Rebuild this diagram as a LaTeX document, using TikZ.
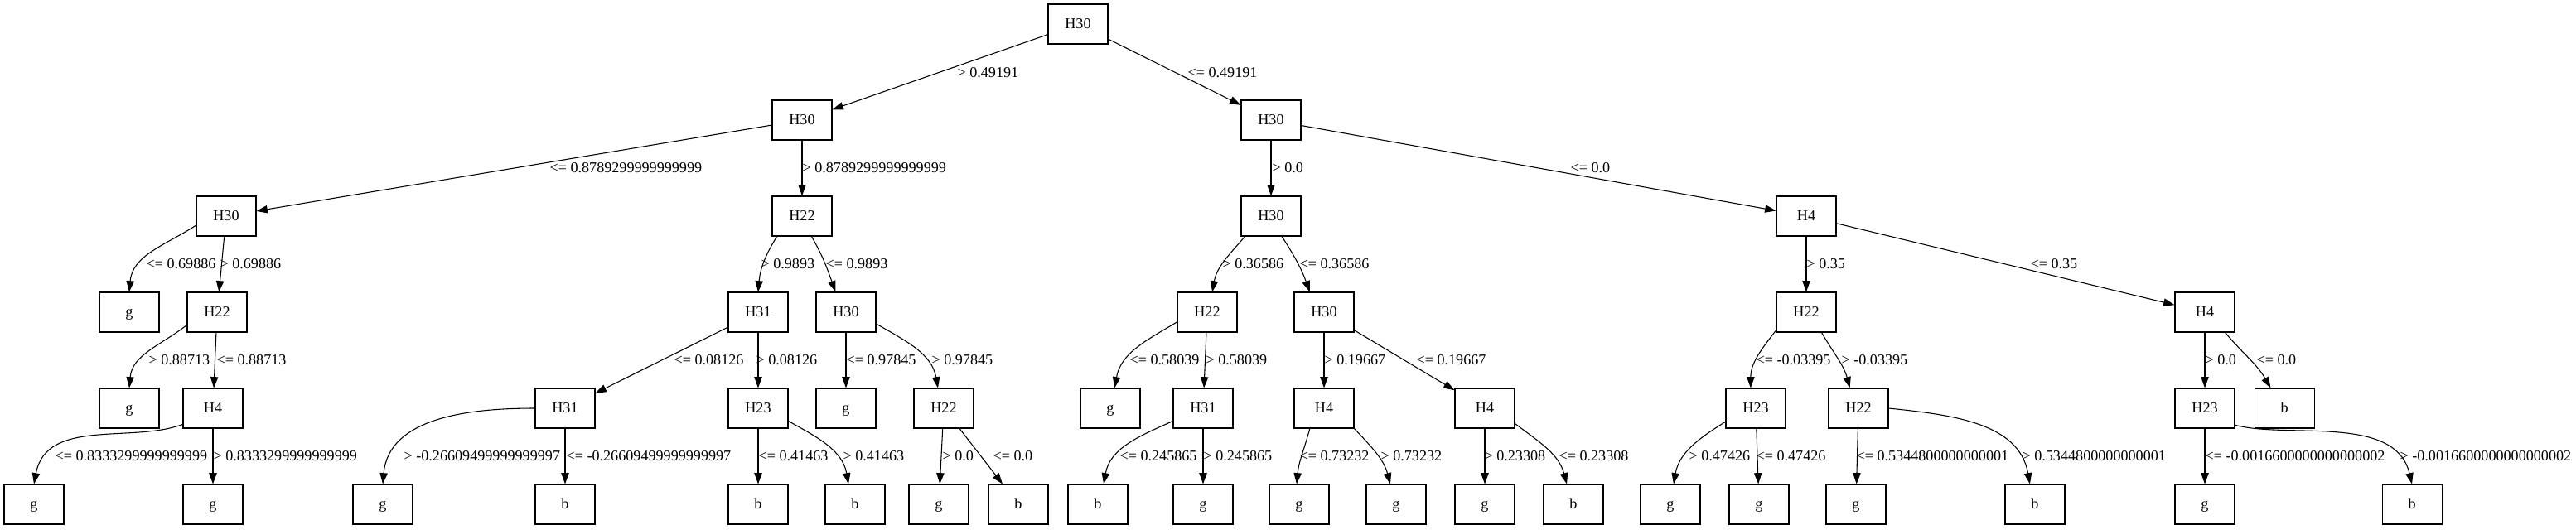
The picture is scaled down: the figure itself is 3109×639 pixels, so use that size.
\documentclass[tikz,border=0pt]{standalone}
\usepackage{fontspec}
\setmainfont{Liberation Serif}
\usetikzlibrary{arrows.meta}

\begin{document}
\begin{tikzpicture}
[x=0.75pt, y=0.75pt,
  every node/.style={font=\fontsize{13.6}{16}\selectfont},
  feat/.style={draw, line width=0.8pt, minimum width=54pt, minimum height=36pt,
    inner sep=0pt, text height=8pt, text depth=0.5pt},
  cond/.style={anchor=base west, inner sep=0pt},
  branchline/.style={->, line width=0.8pt},
  >={Triangle[length=10pt, width=7pt]}]

\useasboundingbox (0,0) rectangle (3109,-639);

\node[feat] (t) at (1301,-29) {H30};
\node[feat] (t1) at (968,-145) {H30};
\node[feat] (t2) at (1534,-145) {H30};
\node[feat] (t11) at (273,-261) {H30};
\node[feat] (t12) at (968,-261) {H22};
\node[feat] (t21) at (1534,-261) {H30};
\node[feat] (t22) at (2180,-261) {H4};
\node[feat] (t111) at (156,-377) {g};
\node[feat] (t112) at (262,-377) {H22};
\node[feat] (t121) at (915,-377) {H31};
\node[feat] (t122) at (1021,-377) {H30};
\node[feat] (t211) at (1457,-377) {H22};
\node[feat] (t212) at (1598,-377) {H30};
\node[feat] (t221) at (2180,-377) {H22};
\node[feat] (t222) at (2661,-377) {H4};
\node[feat] (t1121) at (156,-493) {g};
\node[feat] (t1122) at (257,-493) {H4};
\node[feat] (t1211) at (682,-493) {H31};
\node[feat] (t1212) at (915,-493) {H23};
\node[feat] (t1221) at (1021,-493) {g};
\node[feat] (t1222) at (1139,-493) {H22};
\node[feat] (t2111) at (1340,-493) {g};
\node[feat] (t2112) at (1452,-493) {H31};
\node[feat] (t2121) at (1598,-493) {H4};
\node[feat] (t2122) at (1792,-493) {H4};
\node[feat] (t2211) at (2119,-493) {H23};
\node[feat] (t2212) at (2243,-493) {H22};
\node[feat] (t2221) at (2661,-493) {H23};
\node[feat] (t2222) at (2757,-493) {b};
\node[feat] (t11221) at (41,-609) {g};
\node[feat] (t11222) at (257,-609) {g};
\node[feat] (t12111) at (462,-609) {g};
\node[feat] (t12112) at (682,-609) {b};
\node[feat] (t12121) at (915,-609) {b};
\node[feat] (t12122) at (1032,-609) {b};
\node[feat] (t12221) at (1133,-609) {g};
\node[feat] (t12222) at (1229,-609) {b};
\node[feat] (t21121) at (1325,-609) {b};
\node[feat] (t21122) at (1452,-609) {g};
\node[feat] (t21211) at (1568,-609) {g};
\node[feat] (t21212) at (1685,-609) {g};
\node[feat] (t21221) at (1792,-609) {g};
\node[feat] (t21222) at (1899,-609) {b};
\node[feat] (t22111) at (2016,-609) {g};
\node[feat] (t22112) at (2123,-609) {g};
\node[feat] (t22121) at (2240,-609) {g};
\node[feat] (t22122) at (2456,-609) {b};
\node[feat] (t22211) at (2661,-609) {g};
\node[feat] (t22212) at (2911,-609) {b};

\draw[branchline] (t) -- (t1) node[cond] at (1155,-93) {> 0.49191};
\draw[branchline] (t) -- (t2) node[cond] at (1433,-93) {<= 0.49191};

\draw[branchline] (t1) -- (t11) node[cond] at (663,-208) {<= 0.8789299999999999};
\draw[branchline] (t1) -- (t12) node[cond] at (968,-208) {> 0.8789299999999999};
\draw[branchline] (t2) -- (t21) node[cond] at (1535,-208) {> 0.0};
\draw[branchline] (t2) -- (t22) node[cond] at (1895,-208) {<= 0.0};

\draw[branchline] (t11.197) to[out=213, in=85] (t111.north) node[cond] at (176,-324) {<= 0.69886};
\draw[branchline] (t11) -- (t112) node[cond] at (265,-324) {> 0.69886};
\draw[branchline] (t12.219) to[out=238, in=85] (t121.north) node[cond] at (918,-324) {> 0.9893};
\draw[branchline] (t12.-65) to[out=-60, in=110] (t122.117) node[cond] at (996,-324) {<= 0.9893};
\draw[branchline] (t21.218) to[out=229, in=80] (t211.76) node[cond] at (1475,-324) {> 0.36586};
\draw[branchline] (t21.-62) to[out=-57, in=110] (t212.125) node[cond] at (1568,-324) {<= 0.36586};
\draw[branchline] (t22) -- (t221) node[cond] at (2180,-324) {> 0.35};
\draw[branchline] (t22) -- (t222) node[cond] at (2450,-324) {<= 0.35};

\draw[branchline] (t112.203) to[out=218, in=85] (t1121.north) node[cond] at (179,-440) {> 0.88713};
\draw[branchline] (t112) -- (t1122) node[cond] at (261,-440) {<= 0.88713};
\draw[branchline] (t121) -- (t1211) node[cond] at (813,-440) {<= 0.08126};
\draw[branchline] (t121) -- (t1212) node[cond] at (912,-440) {> 0.08126};
\draw[branchline] (t122) -- (t1221) node[cond] at (1021,-440) {<= 0.97845};
\draw[branchline] (t122.-21) to[out=-30, in=100] (t1222.106) node[cond] at (1124,-440) {> 0.97845};
\draw[branchline] (t211.198) to[out=211, in=80] (t2111.78) node[cond] at (1363,-440) {<= 0.58039};
\draw[branchline] (t211) -- (t2112) node[cond] at (1455,-440) {> 0.58039};
\draw[branchline] (t212) -- (t2121) node[cond] at (1598,-440) {> 0.19667};
\draw[branchline] (t212) -- (t2122) node[cond] at (1709,-440) {<= 0.19667};
\draw[branchline] (t221.211) to[out=232, in=90] (t2211.104) node[cond] at (2119,-440) {<= -0.03395};
\draw[branchline] (t221.-53) to[out=-60, in=105] (t2212.113) node[cond] at (2222,-440) {> -0.03395};
\draw[branchline] (t222) -- (t2221) node[cond] at (2661,-440) {> 0.0};
\draw[branchline] (t222.-45) to[out=-50, in=120] (t2222.124) node[cond] at (2723,-440) {<= 0.0};

\draw[branchline] (t1122.208) .. controls +(-61,-23) and +(15,80) .. (t11221.north) node[cond] at (66,-556) {<= 0.8333299999999999};
\draw[branchline] (t1122) -- (t11222) node[cond] at (257,-556) {> 0.8333299999999999};
\draw[branchline] (t1211.west) to[out=180, in=85] (t12111.north) node[cond] at (487,-556) {> -0.26609499999999997};
\draw[branchline] (t1211) -- (t12112) node[cond] at (683,-556) {<= -0.26609499999999997};
\draw[branchline] (t1212) -- (t12121) node[cond] at (915,-556) {<= 0.41463};
\draw[branchline] (t1212.-23) to[out=-29, in=100] (t12122.108) node[cond] at (1017,-556) {> 0.41463};
\draw[branchline] (t1222) -- (t12221) node[cond] at (1137,-556) {> 0.0};
\draw[branchline] (t1222) -- (t12222) node[cond] at (1198,-556) {<= 0.0};
\draw[branchline] (t2112.203) to[out=204, in=80] (t21121.74) node[cond] at (1351,-556) {<= 0.245865};
\draw[branchline] (t2112) -- (t21122) node[cond] at (1452,-556) {> 0.245865};
\draw[branchline] (t2121.-125) to[out=-105, in=85] (t21211.97) node[cond] at (1568,-556) {<= 0.73232};
\draw[branchline] (t2121.south east) to[out=-47, in=105] (t21212.106) node[cond] at (1666,-556) {> 0.73232};
\draw[branchline] (t2122) -- (t21221) node[cond] at (1791,-556) {> 0.23308};
\draw[branchline] (t2122.-27) to[out=-37, in=105] (t21222.108) node[cond] at (1881,-556) {<= 0.23308};
\draw[branchline] (t2211.204) to[out=212, in=80] (t22111.81) node[cond] at (2038,-556) {> 0.47426};
\draw[branchline] (t2211) -- (t22112) node[cond] at (2119,-556) {<= 0.47426};
\draw[branchline] (t2212) -- (t22121) node[cond] at (2240,-556) {<= 0.5344800000000001};
\draw[branchline] (t2212.east) to[out=-6, in=100] (t22122.104) node[cond] at (2440,-556) {> 0.5344800000000001};
\draw[branchline] (t2221) -- (t22211) node[cond] at (2661,-556) {<= -0.0016600000000000002};
\draw[branchline] (t2221.-29) .. controls +(63,-17) and +(-20,85) .. (t22212.north) node[cond] at (2896,-556) {> -0.0016600000000000002};

\end{tikzpicture}
\end{document}
